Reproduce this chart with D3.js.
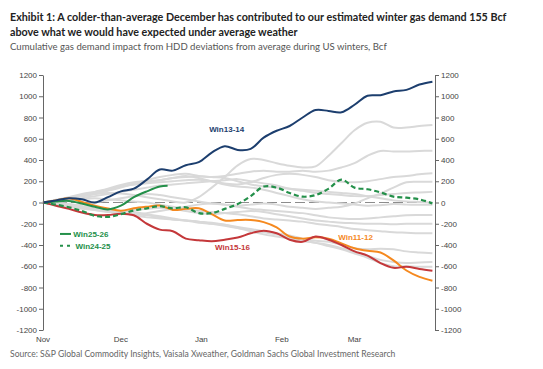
<!DOCTYPE html>
<html><head><meta charset="utf-8">
<script src="https://cdn.jsdelivr.net/npm/d3@7"></script>
<style>body{margin:0;background:#fff}</style>
</head><body><svg id="c" width="543" height="369"></svg>
<script>
// ---------- data ----------
const days = [0,5,10,15,20,25,30,35,40,45,50,55,60,65,70,75,80,85,90,95,100,105,110,115,120,125,130,135,140,145,150];
const monthLabels = ["Nov","Dec","Jan","Feb","Mar"];
const monthDays = [0,30,61,92,120];
const yTicks = [1200,1000,800,600,400,200,0,-200,-400,-600,-800,-1000,-1200];

const win1314 = [0,20,40,30,0,50,105,130,215,310,300,350,380,470,530,495,505,610,675,720,800,870,862,850,920,1005,1010,1045,1060,1110,1137];
const win1516 = [0,-30,-60,-95,-118,-118,-105,-120,-200,-255,-270,-340,-355,-365,-350,-330,-290,-265,-290,-350,-370,-320,-350,-400,-460,-500,-570,-615,-605,-625,-642];
const win1112 = [0,20,40,5,-30,-57,-77,-55,-40,-28,-70,-60,-55,-110,-170,-165,-165,-185,-235,-320,-340,-328,-340,-385,-430,-455,-470,-545,-640,-700,-736];
const win2425 = [0,-20,-45,-80,-125,-135,-110,-75,-55,-35,-55,-45,-100,-100,-60,-15,60,150,140,90,55,70,130,215,140,125,95,55,45,30,-8];
const days2526 = [0,5,10,15,20,25,30,35,40,45,48];
const win2526 = [0,10,15,-10,-40,-65,-30,50,105,150,158];

const grayA = [0,15,35,60,80,90,85,70,50,30,10,0,50,140,240,350,410,400,370,345,330,340,440,560,680,750,760,705,705,720,730];
const grayB = [0,10,30,60,90,120,150,170,190,210,230,240,245,240,250,270,290,300,290,290,300,290,300,330,370,440,485,480,480,485,488];
const grayC = [0,20,45,70,100,130,165,190,200,210,230,250,230,200,180,170,190,230,260,270,260,240,210,195,190,200,220,240,250,265,275];
const grayD = [0,-10,-25,-20,0,20,40,60,80,70,50,30,10,-10,-20,-30,-20,-10,-20,-40,-50,-60,-50,-40,-10,40,85,140,190,195,196];
const grayE = [0,25,50,80,100,120,150,170,180,190,200,210,215,200,170,150,140,120,90,60,30,10,0,-10,-20,-30,-25,-15,-20,-20,-20];
const grayF = [0,-10,-25,-40,-60,-80,-100,-110,-100,-80,-60,-40,-20,-10,-20,-40,-60,-70,-80,-90,-100,-120,-140,-150,-155,-150,-140,-130,-120,-118,-118];
const grayG = [0,5,15,30,40,30,20,10,0,-20,-40,-60,-80,-90,-100,-110,-130,-150,-160,-170,-180,-200,-215,-230,-250,-260,-270,-280,-285,-290,-290];
const grayH = [0,-15,-30,-50,-70,-90,-100,-120,-140,-150,-160,-170,-180,-190,-210,-230,-250,-270,-290,-310,-340,-360,-370,-400,-430,-440,-435,-440,-460,-470,-478];
const grayI = [0,-5,-15,-35,-55,-70,-80,-90,-110,-130,-150,-170,-180,-200,-220,-240,-260,-280,-300,-330,-360,-380,-410,-440,-480,-520,-570,-600,-600,-605,-604];
const grayJ = [0,10,25,40,60,80,100,120,140,160,170,180,190,200,210,220,200,180,160,130,110,90,80,70,60,60,70,80,90,95,100];
const grayK = [0,-20,-40,-55,-65,-75,-80,-70,-60,-50,-60,-80,-100,-110,-100,-90,-80,-90,-110,-130,-150,-170,-180,-190,-195,-200,-200,-205,-200,-200,-200];
const grayL = [0,-20,-40,-60,-70,-85,-100,-110,-120,-140,-160,-170,-190,-200,-210,-240,-270,-300,-320,-340,-360,-380,-400,-430,-460,-500,-540,-560,-570,-565,-560];
const grayM = [0,20,40,60,80,110,140,180,210,240,260,270,250,240,230,200,170,150,140,130,120,110,100,90,80,60,40,20,10,5,0];
const grays = [grayA,grayB,grayC,grayD,grayE,grayF,grayG,grayH,grayI,grayJ,grayK,grayL,grayM];

// ---------- drawing ----------
const svg = d3.select("#c");
const x = d3.scaleLinear().domain([0,151]).range([43,435]);
const y = d3.scaleLinear().domain([-1200,1200]).range([330,75]);

const C = {navy:"#1c3e6e", red:"#c4383a", orange:"#f5891f", green:"#24904a", gray:"#d9d9d9"};

// titles
const tFont = "Lato, 'Open Sans', sans-serif";
const t1 = svg.append("text").attr("x",10).attr("y",21).attr("font-family",tFont).attr("font-weight",700).attr("fill","#222")
  .text("Exhibit 1: A colder-than-average December has contributed to our estimated winter gas demand 155 Bcf");
const t2 = svg.append("text").attr("x",10).attr("y",36).attr("font-family",tFont).attr("font-weight",700).attr("fill","#222")
  .text("above what we would have expected under average weather");
const st = svg.append("text").attr("x",10).attr("y",49.5).attr("font-family",tFont).attr("fill","#555")
  .text("Cumulative gas demand impact from HDD deviations from average during US winters, Bcf");
const src = svg.append("text").attr("x",10).attr("y",357).attr("font-family",tFont).attr("fill","#666")
  .text("Source: S&P Global Commodity Insights, Vaisala Xweather, Goldman Sachs Global Investment Research");
function fit(sel, target, base){ sel.attr("font-size",base); const w = sel.node().getComputedTextLength(); const fs = base*target/w; sel.attr("font-size",fs); return fs; }
const fsT = fit(t1, 497, 11); t2.attr("font-size", fsT);
fit(st, 377, 10);
fit(src, 386, 9);

// zero line
svg.append("line").attr("x1",x(0)).attr("x2",x(151)).attr("y1",y(0)).attr("y2",y(0))
  .attr("stroke","#8c8c8c").attr("stroke-width",1.2).attr("stroke-dasharray","10,4");

const line = d3.line().x(d=>x(d[0])).y(d=>y(d[1])).curve(d3.curveCatmullRom.alpha(0.5));
const pairs = (ds, vs) => vs.map((v,i)=>[ds[i], v]);

const g = svg.append("g");
grays.forEach(s => g.append("path").attr("d", line(pairs(days,s))).attr("fill","none").attr("stroke",C.gray).attr("stroke-width",2));

g.append("path").attr("d", line(pairs(days,win1112))).attr("fill","none").attr("stroke",C.orange).attr("stroke-width",2);
g.append("path").attr("d", line(pairs(days,win1516))).attr("fill","none").attr("stroke",C.red).attr("stroke-width",2);
g.append("path").attr("d", line(pairs(days,win2425))).attr("fill","none").attr("stroke",C.green).attr("stroke-width",2.2).attr("stroke-dasharray","5,3");
g.append("path").attr("d", line(pairs(days2526,win2526))).attr("fill","none").attr("stroke",C.green).attr("stroke-width",2);
g.append("path").attr("d", line(pairs(days,win1314))).attr("fill","none").attr("stroke",C.navy).attr("stroke-width",2);

// axes
const axFont = "'Liberation Sans', Arial, sans-serif";
const fmt = d => String(d);
const yl = svg.append("g").attr("transform",`translate(${x(0)},0)`)
  .call(d3.axisLeft(y).tickValues(yTicks).tickFormat(fmt).tickSize(4).tickSizeOuter(0).tickPadding(2));
const yr = svg.append("g").attr("transform",`translate(${x(151)},0)`)
  .call(d3.axisRight(y).tickValues(yTicks).tickFormat(fmt).tickSize(4).tickSizeOuter(0).tickPadding(2));
[yl,yr].forEach(a=>{
  a.select(".domain").attr("stroke","#666");
  a.selectAll(".tick line").attr("stroke","#666");
  a.selectAll(".tick text").attr("font-family",axFont).attr("font-size",8).attr("fill","#444");
});
svg.append("g").selectAll("text").data(monthLabels).join("text")
  .attr("x",(d,i)=>x(monthDays[i])).attr("y",342).attr("text-anchor","middle")
  .attr("font-family",axFont).attr("font-size",8).attr("fill","#444").text(d=>d);

// labels
const lab = (txt, dx, vy, col, anchor) => svg.append("text").attr("x",x(dx)).attr("y",y(vy)).attr("dy","0.35em")
  .attr("text-anchor",anchor).attr("font-family",axFont).attr("font-weight",700).attr("font-size",8).attr("fill",col).text(txt);
lab("Win13-14", 64, 692, C.navy, "start");
lab("Win15-16", 73, -425, C.red, "middle");
lab("Win11-12", 120.4, -328, C.orange, "middle");

// legend
svg.append("line").attr("x1",60).attr("x2",71).attr("y1",y(-296)).attr("y2",y(-296)).attr("stroke",C.green).attr("stroke-width",2);
svg.append("line").attr("x1",60).attr("x2",72).attr("y1",y(-407)).attr("y2",y(-407)).attr("stroke",C.green).attr("stroke-width",2.2).attr("stroke-dasharray","3,4");
lab("Win25-26", 11.7, -296, C.green, "start");
lab("Win24-25", 12.5, -407, C.green, "start");
</script></body></html>
